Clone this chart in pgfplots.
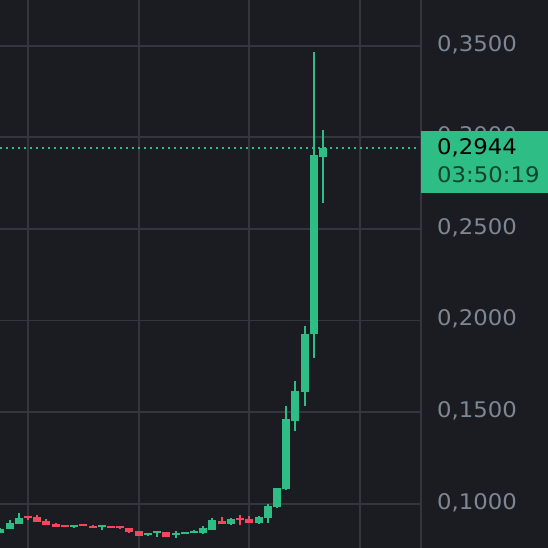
\documentclass[border=0pt]{standalone}
\usepackage{pgfplots}
\pgfplotsset{compat=1.18}
\usepackage{pgfplotstable}
\usepackage{fontspec}
\setmainfont{DejaVu Sans}[FakeStretch=1.06]

\definecolor{bgc}{HTML}{1B1C21}
\definecolor{gridc}{HTML}{33363F}
\definecolor{upc}{HTML}{2EBD85}
\definecolor{downc}{HTML}{F6465D}
\definecolor{labc}{HTML}{7F8794}
\definecolor{timec}{HTML}{12432F}

% i  open  high  low  close
\pgfplotstableread{
i  O      H      L      C
0  0.0840 0.0867 0.0840 0.0862
1  0.0862 0.0911 0.0862 0.0895
2  0.0891 0.0949 0.0891 0.0922
8  0.0873 0.0884 0.0867 0.0884
11 0.0873 0.0884 0.0856 0.0884
16 0.0829 0.0840 0.0824 0.0840
17 0.0840 0.0851 0.0818 0.0851
19 0.0829 0.0851 0.0813 0.0840
20 0.0835 0.0845 0.0835 0.0845
21 0.0840 0.0856 0.0840 0.0851
22 0.0840 0.0878 0.0835 0.0867
23 0.0856 0.0922 0.0856 0.0911
25 0.0889 0.0922 0.0884 0.0917
28 0.0895 0.0933 0.0889 0.0927
29 0.0922 0.0998 0.0895 0.0987
30 0.0982 0.1086 0.0976 0.1086
31 0.1080 0.1534 0.1075 0.1463
32 0.1452 0.1671 0.1397 0.1616
33 0.1610 0.1970 0.1534 0.1927
34 0.1927 0.3466 0.1796 0.2905
35 0.2894 0.3039 0.2641 0.2944
}\up

\pgfplotstableread{
i  O      H      L      C
3  0.0933 0.0933 0.0911 0.0922
4  0.0927 0.0938 0.0900 0.0900
5  0.0906 0.0917 0.0884 0.0884
6  0.0889 0.0895 0.0873 0.0873
7  0.0884 0.0884 0.0873 0.0873
9  0.0889 0.0889 0.0878 0.0878
10 0.0878 0.0884 0.0867 0.0867
12 0.0878 0.0878 0.0867 0.0867
13 0.0878 0.0878 0.0862 0.0867
14 0.0867 0.0867 0.0840 0.0845
15 0.0851 0.0851 0.0824 0.0824
18 0.0845 0.0845 0.0818 0.0818
24 0.0906 0.0928 0.0889 0.0889
26 0.0922 0.0938 0.0884 0.0911
27 0.0917 0.0933 0.0895 0.0895
}\down

\begin{document}
\begin{tikzpicture}
\fill[bgc] (0,0) rectangle (548pt,548pt);
\begin{axis}[
  at={(0,0)}, anchor=south west,
  scale only axis,
  width=421pt, height=548pt,
  xmin=-0.036, xmax=45.61,
  ymin=0.07582, ymax=0.37494,
  axis line style={draw=none},
  major tick length=0pt,
  xtick={3,15,27,39}, xticklabels={},
  ytick={0.1,0.15,0.2,0.25,0.3,0.35},
  yticklabel pos=right,
  xmajorgrids, ymajorgrids,
  grid style={gridc, line width=1.8pt},
  yticklabel style={
    /pgf/number format/.cd, fixed, fixed zerofill, precision=4, use comma,
    assume math mode=true, /tikz/.cd,
    font=\fontsize{21.5}{24}\selectfont, text=labc,
    anchor=base west, inner sep=0pt, xshift=16pt, yshift=-5.5pt},
]
% last price line
\addplot[upc, line width=2pt, dash pattern=on 2pt off 4pt]
  coordinates {(-0.036,0.2944) (45.61,0.2944)};

% wicks
\addplot[draw=none, mark=none, forget plot,
  error bars/.cd, y dir=plus, y explicit, error mark=none,
  error bar style={upc, line width=2pt}]
  table[x=i, y=L, y error plus expr=\thisrow{H}-\thisrow{L}] {\up};
\addplot[draw=none, mark=none, forget plot,
  error bars/.cd, y dir=plus, y explicit, error mark=none,
  error bar style={downc, line width=2pt}]
  table[x=i, y=L, y error plus expr=\thisrow{H}-\thisrow{L}] {\down};

% bodies
\addplot[draw=none, mark=none, forget plot,
  error bars/.cd, y dir=plus, y explicit, error mark=none,
  error bar style={upc, line width=8pt}]
  table[x=i, y=O, y error plus expr=\thisrow{C}-\thisrow{O}] {\up};
\addplot[draw=none, mark=none, forget plot,
  error bars/.cd, y dir=plus, y explicit, error mark=none,
  error bar style={downc, line width=8pt}]
  table[x=i, y=C, y error plus expr=\thisrow{O}-\thisrow{C}] {\down};
\end{axis}

% price scale border
\draw[gridc, line width=1.8pt] (421pt,0) -- (421pt,548pt);

% last price tag
\fill[upc] (421pt,355pt) rectangle (548pt,417pt);
\node[anchor=base west, inner sep=0pt, text=black,
  font=\fontsize{21.5}{24}\selectfont] at (437pt,393pt) {0,2944};
\node[anchor=base west, inner sep=0pt, text=timec,
  font=\fontsize{21.5}{24}\selectfont] at (437pt,365pt) {03:50:19};

\pgfresetboundingbox
\path[use as bounding box] (0,0) rectangle (548pt,548pt);
\end{tikzpicture}
\end{document}
